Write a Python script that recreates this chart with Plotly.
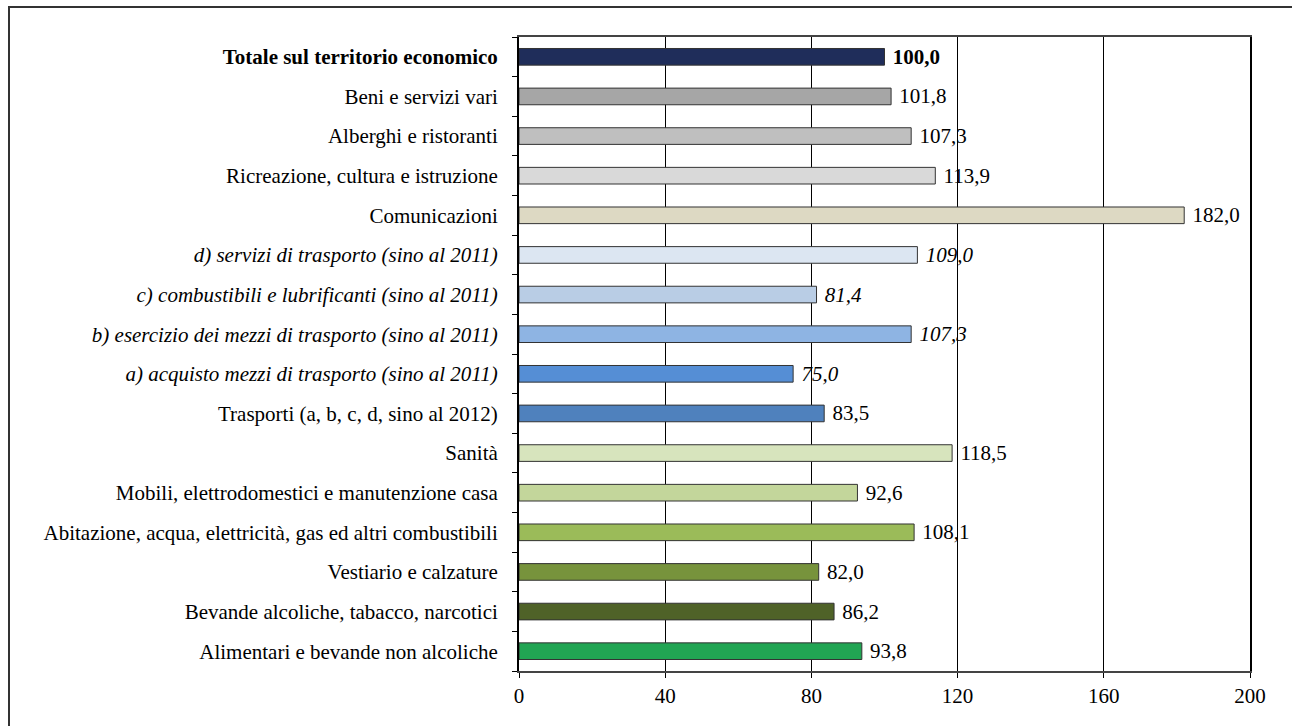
import plotly.graph_objects as go

categories = [
    "Totale sul territorio economico",
    "Beni e servizi vari",
    "Alberghi e ristoranti",
    "Ricreazione, cultura e istruzione",
    "Comunicazioni",
    "d) servizi di trasporto (sino al 2011)",
    "c) combustibili e lubrificanti (sino al 2011)",
    "b) esercizio dei mezzi di trasporto (sino al 2011)",
    "a) acquisto mezzi di trasporto (sino al 2011)",
    "Trasporti (a, b, c, d, sino al 2012)",
    "Sanità",
    "Mobili, elettrodomestici e manutenzione casa",
    "Abitazione, acqua, elettricità, gas ed altri combustibili",
    "Vestiario e calzature",
    "Bevande alcoliche, tabacco, narcotici",
    "Alimentari e bevande non alcoliche",
]
values = [100.0, 101.8, 107.3, 113.9, 182.0, 109.0, 81.4, 107.3, 75.0, 83.5,
          118.5, 92.6, 108.1, 82.0, 86.2, 93.8]
styles = ["bold", "normal", "normal", "normal", "normal", "italic", "italic", "italic",
          "italic", "normal", "normal", "normal", "normal", "normal", "normal", "normal"]
colors = ["#1F2D5A", "#A6A6A6", "#BFBFBF", "#D9D9D9", "#DDD9C3", "#DCE6F2", "#B9CDE5",
          "#8EB4E3", "#558ED5", "#4F81BD", "#D7E4BD", "#C3D69B", "#9BBB59", "#77933C",
          "#4F6228", "#21A553"]
x_ticks = [0, 40, 80, 120, 160, 200]

FONT = "Liberation Serif, Times New Roman, serif"
FS = 21


def wrap(s, st):
    if st == "bold":
        return "<b>" + s + "</b>"
    if st == "italic":
        return "<i>" + s + "</i>"
    return s


ticktext = [wrap(c, s) for c, s in zip(categories, styles)]
texttemplates = [wrap("\u00a0%{x:.1f}", s) for s in styles]

W, H = 1292, 726
L, R, T, B = 519, 42, 37, 55
pw, ph = W - L - R, H - T - B

fig = go.Figure(go.Bar(
    y=categories,
    x=values,
    orientation="h",
    width=0.42,
    marker=dict(color=colors, line=dict(color="#333333", width=1)),
    texttemplate=texttemplates,
    textposition="outside",
    constraintext="none",
    cliponaxis=False,
    textfont=dict(family=FONT, size=FS, color="black"),
))

fig.update_layout(
    width=W, height=H,
    margin=dict(l=L, r=R, t=T, b=B),
    plot_bgcolor="white", paper_bgcolor="white",
    separators=",.",
    showlegend=False,
    font=dict(family=FONT, size=FS, color="black"),
    xaxis=dict(
        range=[0, 200], tickvals=x_ticks, ticktext=[str(v) for v in x_ticks],
        showgrid=True, gridcolor="black", gridwidth=1,
        showline=True, linecolor="#444444", linewidth=2, mirror=True,
        ticks="outside", ticklen=5, tickcolor="black",
        zeroline=False,
        tickfont=dict(family=FONT, size=FS, color="black"),
    ),
    yaxis=dict(
        type="category", categoryorder="array", categoryarray=categories,
        autorange="reversed",
        tickvals=categories, ticktext=ticktext,
        showline=True, linecolor="black", linewidth=2, mirror=True,
        ticks="outside", ticklen=5, tickcolor="black", tickson="boundaries",
        ticklabelstandoff=15, showgrid=False,
        tickfont=dict(family=FONT, size=FS, color="black"),
    ),
)

# outer frame
x0 = (9 - L) / pw
y1 = (H - B - 7) / ph
fig.add_shape(type="rect", xref="paper", yref="paper",
              x0=x0, x1=(W + 20 - L) / pw, y0=(H - B - (H + 20)) / ph, y1=y1,
              line=dict(color="#333333", width=2), fillcolor="rgba(0,0,0,0)", layer="below")

fig.write_html("out.html", config={"displayModeBar": False},
               post_script="document.body.style.margin='0px';")
